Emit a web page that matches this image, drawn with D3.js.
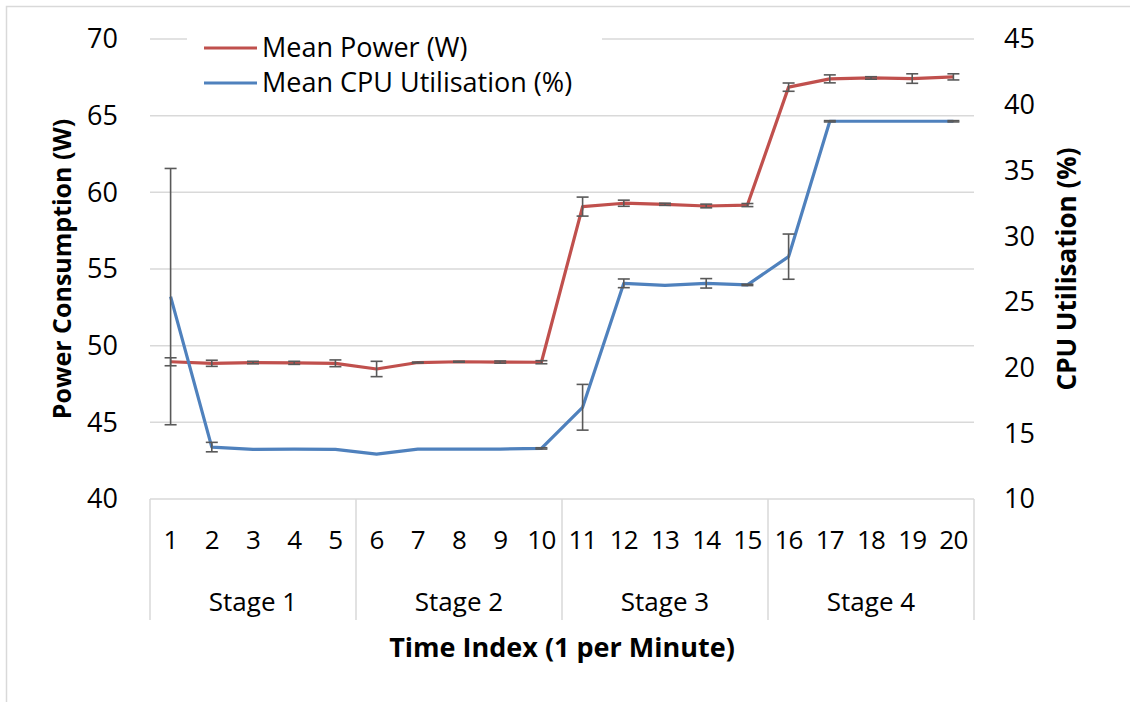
<!DOCTYPE html>
<html lang="en">
<head>
<meta charset="utf-8">
<title>Power and CPU</title>
<script src="https://cdn.jsdelivr.net/npm/d3@7"></script>
<style>
  body { margin: 0; background: #fff; }
  svg text { font-family: "Open Sans", Lato, sans-serif; fill: #000; }
</style>
</head>
<body>
<script>
// data
var timeIndex = ["1","2","3","4","5","6","7","8","9","10","11","12","13","14","15","16","17","18","19","20"];
var stages = ["Stage 1", "Stage 2", "Stage 3", "Stage 4"];
var powerMean = [48.95, 48.85, 48.9, 48.88, 48.85, 48.48, 48.9, 48.95, 48.93, 48.92,
                 59.07, 59.29, 59.22, 59.11, 59.17, 66.86, 67.4, 67.46, 67.42, 67.53];
var powerErr = [0.26, 0.2, 0.08, 0.1, 0.22, 0.5, 0.03, 0.03, 0.07, 0.1,
                0.62, 0.2, 0.07, 0.12, 0.1, 0.27, 0.26, 0.08, 0.31, 0.2];
var cpuMean = [25.4, 13.95, 13.78, 13.8, 13.78, 13.42, 13.8, 13.8, 13.8, 13.85,
               16.98, 26.41, 26.26, 26.41, 26.29, 28.44, 38.74, 38.74, 38.74, 38.74];
var cpuErr = [9.75, 0.36, 0, 0, 0, 0, 0, 0, 0, 0.05,
              1.74, 0.33, 0, 0.36, 0.05, 1.72, 0.05, 0, 0, 0.05];
var leftTicks = [40, 45, 50, 55, 60, 65, 70];
var rightTicks = [10, 15, 20, 25, 30, 35, 40, 45];

var w = 1130, h = 702;
var plotLeft = 150, plotRight = 974, plotTop = 39, plotBottom = 499;

var svg = d3.select("body").append("svg")
  .attr("width", w)
  .attr("height", h);

// chart border
svg.append("rect")
  .attr("x", 6.5).attr("y", 6.5)
  .attr("width", w).attr("height", h)
  .attr("fill", "none")
  .attr("stroke", "#d9d9d9")
  .attr("stroke-width", 1.5);

var x = d3.scaleBand().domain(timeIndex).range([plotLeft, plotRight]);
var yL = d3.scaleLinear().domain([40, 70]).range([plotBottom, plotTop]);
var yR = d3.scaleLinear().domain([10, 45]).range([plotBottom, plotTop]);

// gridlines
svg.append("g").selectAll("line")
  .data(leftTicks.slice(1))
  .enter().append("line")
  .attr("x1", plotLeft).attr("x2", plotRight)
  .attr("y1", function(d) { return yL(d); })
  .attr("y2", function(d) { return yL(d); })
  .attr("stroke", "#d9d9d9")
  .attr("stroke-width", 1.5);

// left axis labels
svg.append("g").selectAll("text")
  .data(leftTicks)
  .enter().append("text")
  .attr("x", 118)
  .attr("y", function(d) { return yL(d); })
  .attr("dy", "0.35em")
  .attr("text-anchor", "end")
  .attr("font-size", 27)
  .text(function(d) { return d; });

// right axis labels
svg.append("g").selectAll("text")
  .data(rightTicks)
  .enter().append("text")
  .attr("x", 1004)
  .attr("y", function(d) { return yR(d); })
  .attr("dy", "0.35em")
  .attr("font-size", 27)
  .text(function(d) { return d; });

// category axis box
var axisG = svg.append("g");
axisG.append("line")
  .attr("x1", plotLeft).attr("x2", plotRight)
  .attr("y1", plotBottom).attr("y2", plotBottom)
  .attr("stroke", "#d9d9d9").attr("stroke-width", 1.5);

var stageEdges = [0, 5, 10, 15, 20];
axisG.selectAll("line.sep")
  .data(stageEdges)
  .enter().append("line")
  .attr("class", "sep")
  .attr("x1", function(d) { return plotLeft + d * x.bandwidth(); })
  .attr("x2", function(d) { return plotLeft + d * x.bandwidth(); })
  .attr("y1", plotBottom).attr("y2", 620)
  .attr("stroke", "#d9d9d9").attr("stroke-width", 1.5);

axisG.selectAll("text.idx")
  .data(timeIndex)
  .enter().append("text")
  .attr("class", "idx")
  .attr("x", function(d) { return x(d) + x.bandwidth() / 2; })
  .attr("y", 540)
  .attr("dy", "0.35em")
  .attr("text-anchor", "middle")
  .attr("font-size", 26)
  .attr("letter-spacing", -0.8)
  .text(function(d) { return d; });

axisG.selectAll("text.stage")
  .data(stages)
  .enter().append("text")
  .attr("class", "stage")
  .attr("x", function(d, i) { return plotLeft + (i * 5 + 2.5) * x.bandwidth(); })
  .attr("y", 602)
  .attr("dy", "0.35em")
  .attr("text-anchor", "middle")
  .attr("font-size", 26)
  .text(function(d) { return d; });

// axis titles
svg.append("text")
  .attr("x", (plotLeft + plotRight) / 2)
  .attr("y", 648)
  .attr("dy", "0.35em")
  .attr("text-anchor", "middle")
  .attr("font-size", 27)
  .attr("font-weight", "bold")
  .text("Time Index (1 per Minute)");

svg.append("text")
  .attr("transform", "translate(62," + ((plotTop + plotBottom) / 2) + ") rotate(-90)")
  .attr("dy", "0.35em")
  .attr("text-anchor", "middle")
  .attr("font-size", 25)
  .attr("font-weight", "bold")
  .text("Power Consumption (W)");

svg.append("text")
  .attr("transform", "translate(1067," + ((plotTop + plotBottom) / 2) + ") rotate(-90)")
  .attr("dy", "0.35em")
  .attr("text-anchor", "middle")
  .attr("font-size", 26)
  .attr("font-weight", "bold")
  .text("CPU Utilisation (%)");

var cx = function(i) { return x(timeIndex[i]) + x.bandwidth() / 2; };

function drawSeries(values, errs, scale, color) {
  var line = d3.line()
    .x(function(d, i) { return cx(i); })
    .y(function(d) { return scale(d); });

  svg.append("path")
    .datum(values)
    .attr("d", line)
    .attr("fill", "none")
    .attr("stroke", color)
    .attr("stroke-width", 3.2)
    .attr("stroke-linejoin", "round");

  // error bars, skip the ones with no spread
  var eg = svg.append("g")
    .attr("stroke", "#595959")
    .attr("stroke-width", 1.6);
  values.forEach(function(v, i) {
    if (!errs[i]) return;
    var y1 = scale(v + errs[i]), y2 = scale(v - errs[i]);
    eg.append("line").attr("x1", cx(i)).attr("x2", cx(i)).attr("y1", y1).attr("y2", y2);
    eg.append("line").attr("x1", cx(i) - 6).attr("x2", cx(i) + 6).attr("y1", y1).attr("y2", y1);
    eg.append("line").attr("x1", cx(i) - 6).attr("x2", cx(i) + 6).attr("y1", y2).attr("y2", y2);
  });
}

drawSeries(powerMean, powerErr, yL, "#c0504d");
drawSeries(cpuMean, cpuErr, yR, "#4f81bd");

// legend
var legend = svg.append("g");
legend.append("rect")
  .attr("x", 187).attr("y", 26)
  .attr("width", 415).attr("height", 76)
  .attr("fill", "#fff");
var legendItems = [
  { name: "Mean Power (W)", color: "#c0504d" },
  { name: "Mean CPU Utilisation (%)", color: "#4f81bd" }
];
legendItems.forEach(function(d, i) {
  var ly = 48 + i * 35;
  legend.append("line")
    .attr("x1", 204).attr("x2", 257)
    .attr("y1", ly).attr("y2", ly)
    .attr("stroke", d.color).attr("stroke-width", 3.2);
  legend.append("text")
    .attr("x", 262).attr("y", ly)
    .attr("dy", "0.35em")
    .attr("font-size", 27)
    .text(d.name);
});
</script>
</body>
</html>
